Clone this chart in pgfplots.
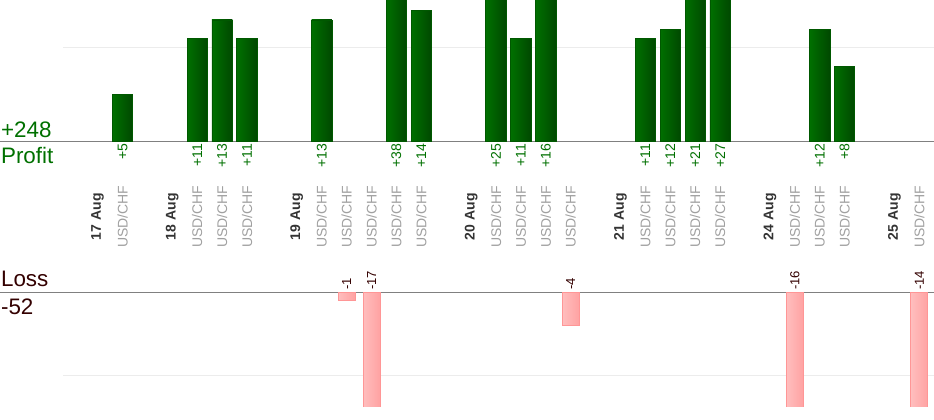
\documentclass[border=0pt]{standalone}
\usepackage{pgfplots}
\usepackage{pgfplotstable}
\pgfplotsset{compat=1.18}
\usepackage{fontspec}
\setmainfont{Liberation Sans}
\definecolor{barGa}{RGB}{0,112,0}
\definecolor{barGb}{RGB}{0,72,0}
\definecolor{barGd}{RGB}{0,88,0}
\definecolor{barPa}{RGB}{255,190,190}
\definecolor{barPb}{RGB}{255,162,162}
\definecolor{barPd}{RGB}{255,150,150}
\definecolor{profitc}{RGB}{0,112,0}
\definecolor{lossc}{RGB}{51,0,0}
\definecolor{dategray}{RGB}{51,51,51}
\definecolor{usdgray}{RGB}{160,160,160}
\definecolor{gridc}{RGB}{236,236,236}
\definecolor{basec}{RGB}{128,128,128}

\pgfplotstableread{
x y lab
1 5 +5
4 11 +11
5 13 +13
6 11 +11
9 13 +13
12 38 +38
13 14 +14
16 25 +25
17 11 +11
18 16 +16
22 11 +11
23 12 +12
24 21 +21
25 27 +27
29 12 +12
30 8 +8
}\profit

\pgfplotstableread{
x y lab
10 -1 -1
11 -17 -17
19 -4 -4
28 -16 -16
33 -14 -14
}\loss

\newcommand{\D}[1]{{\bfseries\color{dategray}#1}}
\newcommand{\U}{USD/CHF}
\pgfplotsset{
  gbar/.style={ybar, bar width=0.82, draw=barGd, line width=0.6pt, left color=barGa, right color=barGb},
  pbar/.style={ybar, bar width=0.68, draw=barPd, line width=0.6pt, left color=barPa, right color=barPb},
}
\newcommand{\G}[2]{\addplot[gbar] coordinates {(#1,#2)};}
\newcommand{\PB}[2]{\addplot[pbar] coordinates {(#1,#2)};}

\begin{document}
\begin{tikzpicture}
\useasboundingbox (0,0) rectangle (700.5pt,315pt);

% ---------- profit panel ----------
\begin{axis}[
  at={(0pt,209pt)}, anchor=south west,
  scale only axis, width=700.5pt, height=106pt,
  xmin=-3.92, xmax=33.59, ymin=0, ymax=15.14,
  axis x line*=bottom, axis y line=none,
  x axis line style={draw=basec, line width=0.75pt},
  xtick={0,1,3,4,5,6,8,9,10,11,12,13,15,16,17,18,19,21,22,23,24,25,27,28,29,30,32,33},
  xticklabels={\D{17 Aug},\U,\D{18 Aug},\U,\U,\U,\D{19 Aug},\U,\U,\U,\U,\U,\D{20 Aug},\U,\U,\U,\U,\D{21 Aug},\U,\U,\U,\U,\D{24 Aug},\U,\U,\U,\D{25 Aug},\U},
  major tick length=0pt,
  xticklabel style={rotate=90, anchor=center, font=\fontsize{10.5}{12}\selectfont, text=usdgray},
  xticklabel shift=56.5pt,
  clip mode=individual,
]
\addplot[draw=gridc, line width=0.75pt, mark=none] coordinates {(-1.39,10) (33.59,10)};
\G{1}{5}\G{4}{11}\G{5}{13}\G{6}{11}\G{9}{13}\G{12}{38}\G{13}{14}
\G{16}{25}\G{17}{11}\G{18}{16}\G{22}{11}\G{23}{12}\G{24}{21}\G{25}{27}
\G{29}{12}\G{30}{8}
\addplot[draw=none, mark=none, nodes near coords, point meta=explicit symbolic,
  nodes near coords style={rotate=90, anchor=east, inner sep=1.5pt, font=\fontsize{10.5}{12}\selectfont, text=profitc}]
  table[x=x, y expr=0, meta=lab]{\profit};
\end{axis}

% ---------- loss panel ----------
\begin{axis}[
  at={(0pt,10pt)}, anchor=south west,
  scale only axis, width=700.5pt, height=85.8pt,
  xmin=-3.92, xmax=33.59, ymin=-13.67, ymax=0,
  axis x line*=top, axis y line=none,
  x axis line style={draw=basec, line width=0.75pt},
  xtick=\empty,
  clip mode=individual,
]
\addplot[draw=gridc, line width=0.75pt, mark=none] coordinates {(-1.39,-10) (33.59,-10)};
\PB{10}{-1}\PB{11}{-17}\PB{19}{-4}\PB{28}{-16}\PB{33}{-14}
\addplot[draw=none, mark=none, nodes near coords, point meta=explicit symbolic,
  nodes near coords style={rotate=90, anchor=west, inner sep=1.5pt, font=\fontsize{9.8}{11}\selectfont, text=lossc}]
  table[x=x, y expr=0, meta=lab]{\loss};
\end{axis}

% ---------- totals ----------
\node[anchor=base west, inner sep=0pt, text=profitc, font=\fontsize{16.8}{19}\selectfont] at (0.6pt,212pt) {+248};
\node[anchor=base west, inner sep=0pt, text=profitc, font=\fontsize{16.8}{19}\selectfont] at (0.6pt,192.5pt) {Profit};
\node[anchor=base west, inner sep=0pt, text=lossc, font=\fontsize{16.8}{19}\selectfont] at (0.6pt,100pt) {Loss};
\node[anchor=base west, inner sep=0pt, text=lossc, font=\fontsize{16.8}{19}\selectfont] at (0.6pt,78.8pt) {-52};
\end{tikzpicture}
\end{document}
